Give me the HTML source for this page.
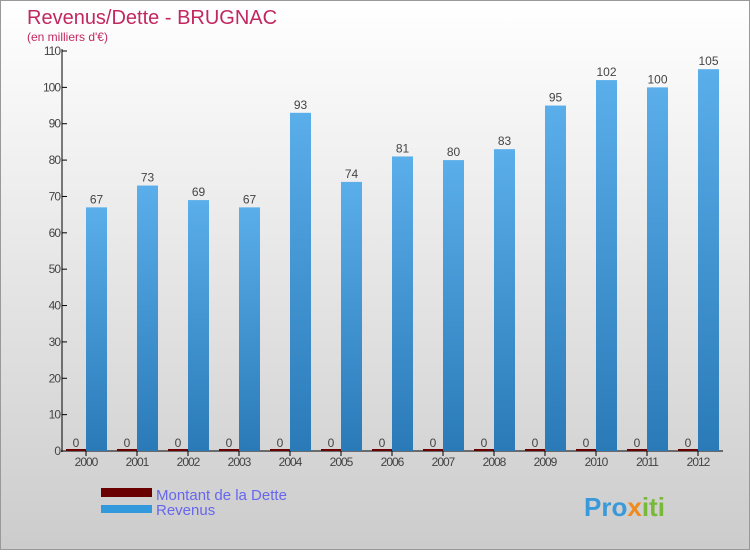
<!DOCTYPE html>
<html><head><meta charset="utf-8"><style>
body{margin:0;width:750px;height:550px;overflow:hidden;font-family:"Liberation Sans",sans-serif}
#c{position:absolute;left:0;top:0;width:748px;height:548px;border:1px solid #999;background:linear-gradient(#ffffff,#cccccc)}
</style></head><body>
<div id="c">
<svg width="750" height="550" id="svg">
<defs><linearGradient id="bg" x1="0" x2="0" y1="0" y2="1"><stop offset="0" stop-color="#5aaeea"/><stop offset="1" stop-color="#2a7ab8"/></linearGradient></defs>
<text x="26" y="23" font-size="20" fill="#c2285f">Revenus/Dette - BRUGNAC</text>
<text x="26" y="40" font-size="12" fill="#c2285f">(en milliers d'€)</text>
<g id="g"></g>
<rect x="100" y="487" width="51" height="9" fill="#6b0000"/>
<text x="155" y="499" font-size="15" fill="#6666ee">Montant de la Dette</text>
<rect x="100" y="504" width="51" height="8" fill="#3399dd"/>
<text x="155" y="514" font-size="15" fill="#6666ee">Revenus</text>
<text x="583" y="515" font-size="26" font-weight="bold" fill="#3a9ad9">Pro<tspan fill="#f08a1c">x</tspan><tspan fill="#79b93a">iti</tspan></text>
</svg></div>
<script>
const years=["2000","2001","2002","2003","2004","2005","2006","2007","2008","2009","2010","2011","2012"];
const revenus=[67,73,69,67,93,74,81,80,83,95,102,100,105];
const dette=[0,0,0,0,0,0,0,0,0,0,0,0,0];
const yTicks=[0,10,20,30,40,50,60,70,80,90,100,110];
const NS="http://www.w3.org/2000/svg";
const g=document.getElementById('g');
const y=v=>450-v*400/110;
const x=i=>85+i*51;
function mk(t,a,txt){const e=document.createElementNS(NS,t);for(const k in a)e.setAttribute(k,a[k]);if(txt!==undefined)e.textContent=txt;g.appendChild(e);return e;}
let e=mk('line',{x1:61,y1:48,x2:61,y2:451,stroke:'#000'});


e=mk('line',{x1:60,y1:450,x2:722,y2:450,stroke:'#000'});


yTicks.forEach(t=>{
 let l=mk('line',{x1:61,x2:66,y1:y(t),y2:y(t),stroke:'#000'});
 
 
 let s=mk('text',{x:59,y:y(t)+4,'font-size':12,fill:'#444','text-anchor':'end','letter-spacing':'-1'},t);
 
 
});
years.forEach((yr,i)=>{
 let d=mk('rect',{x:x(i)-20,y:y(dette[i])-2,width:20,height:2+(450-y(dette[i])),fill:'#6b0000'});
 
 
 let dl=mk('text',{x:x(i)-10,y:y(dette[i])-4,'font-size':12,fill:'#444','text-anchor':'middle'},dette[i]);
 
 
 let r=mk('rect',{x:x(i),y:y(revenus[i]),width:21,height:450-y(revenus[i]),fill:'url(#bg)'});
 
 
 let rl=mk('text',{x:x(i)+10.5,y:y(revenus[i])-4,'font-size':12,fill:'#444','text-anchor':'middle'},revenus[i]);
 
 
 let tk=mk('line',{x1:x(i),x2:x(i),y1:450,y2:455,stroke:'#000'});
 
 
 let xl=mk('text',{x:x(i),y:465,'font-size':12,fill:'#444','text-anchor':'middle','letter-spacing':'-1'},yr);
 
 
});
</script>
</body></html>
